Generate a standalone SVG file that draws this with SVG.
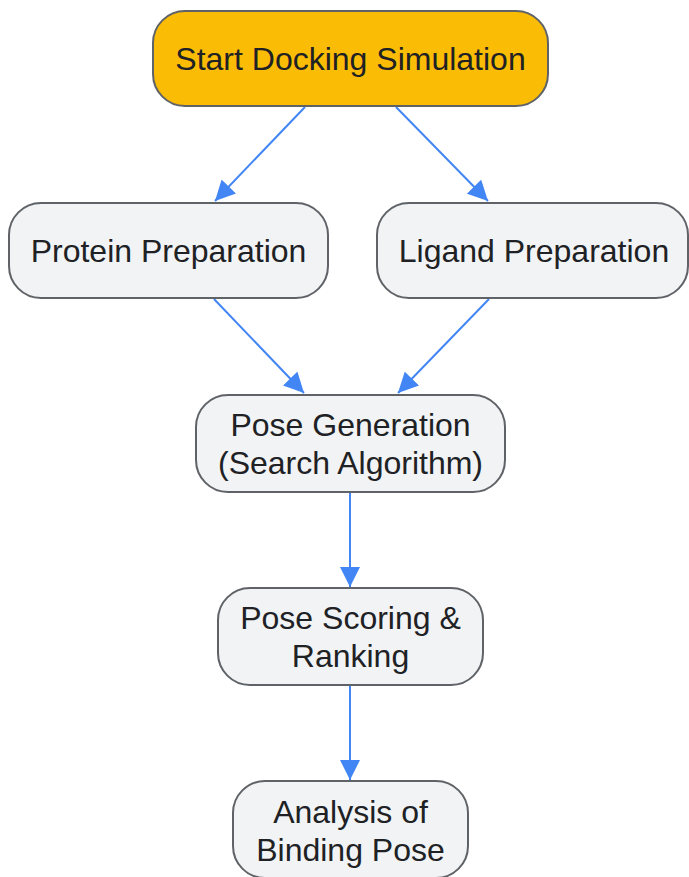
<svg xmlns="http://www.w3.org/2000/svg" width="689" height="877" viewBox="0 0 689 877">
<defs>
<style>
.node rect{fill:#f1f3f4;stroke:#5f6368;stroke-width:2}
.node.start rect{fill:#fbbc05}
.node text{font-family:"Liberation Sans",Arial,sans-serif;font-size:32px;fill:#202124;text-anchor:middle;dominant-baseline:central}
.edges line{stroke:#4285f4;stroke-width:2;fill:none}
</style>
<marker id="arr" markerUnits="userSpaceOnUse" markerWidth="22" markerHeight="20" refX="20" refY="10" orient="auto">
<path d="M0,0 L20,10 L0,20 Z" fill="#4285f4"/>
</marker>
</defs>
<rect width="689" height="877" fill="#ffffff"/>
<g class="edges">
<line x1="305" y1="107" x2="215" y2="201" marker-end="url(#arr)"/>
<line x1="396" y1="107" x2="488" y2="201" marker-end="url(#arr)"/>
<line x1="214" y1="299" x2="304" y2="393" marker-end="url(#arr)"/>
<line x1="489" y1="299" x2="398" y2="393" marker-end="url(#arr)"/>
<line x1="350" y1="493" x2="350" y2="587" marker-end="url(#arr)"/>
<line x1="350" y1="686" x2="350" y2="780" marker-end="url(#arr)"/>
</g>
<g id="start" class="node start">
<rect x="153" y="11" width="395" height="95" rx="32"/>
<text x="350.5" y="59">Start Docking Simulation</text>
</g>
<g id="protein" class="node">
<rect x="9" y="203" width="319" height="95" rx="32"/>
<text x="168.5" y="251">Protein Preparation</text>
</g>
<g id="ligand" class="node">
<rect x="377" y="203" width="311" height="95" rx="32"/>
<text x="534" y="251">Ligand Preparation</text>
</g>
<g id="posegen" class="node">
<rect x="196" y="395" width="309" height="97" rx="32"/>
<text x="350.5" y="425">Pose Generation</text>
<text x="350.5" y="463">(Search Algorithm)</text>
</g>
<g id="scoring" class="node">
<rect x="218" y="588" width="265" height="97" rx="32"/>
<text x="350.5" y="618">Pose Scoring &amp;</text>
<text x="350.5" y="656">Ranking</text>
</g>
<g id="analysis" class="node">
<rect x="233" y="781" width="235" height="97" rx="32"/>
<text x="350.5" y="812">Analysis of</text>
<text x="350.5" y="850">Binding Pose</text>
</g>
</svg>
